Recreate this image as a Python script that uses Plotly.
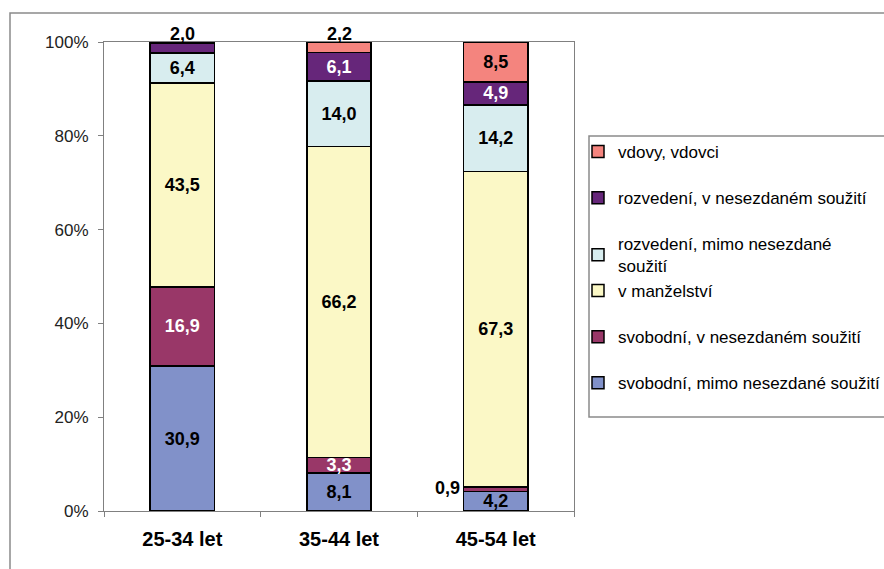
import plotly.graph_objects as go

# Age groups on the x axis
groups = ["25-34 let", "35-44 let", "45-54 let"]

# Shares (%) by marital status / cohabitation, stacked bottom to top
svobodni_mimo = [30.9, 8.1, 4.2]
svobodni_v = [16.9, 3.3, 0.9]
manzelstvi = [43.5, 66.2, 67.3]
rozvedeni_mimo = [6.4, 14.0, 14.2]
rozvedeni_v = [2.0, 6.1, 4.9]
vdovy = [0.3, 2.2, 8.5]

series_names = [
    "svobodní, mimo nesezdané soužití",
    "svobodní, v nesezdaném soužití",
    "v manželství",
    "rozvedení, mimo nesezdané<br>soužití",
    "rozvedení, v nesezdaném soužití",
    "vdovy, vdovci",
]
series_values = [svobodni_mimo, svobodni_v, manzelstvi, rozvedeni_mimo, rozvedeni_v, vdovy]
colors = ["#8191C9", "#993768", "#FBF8C6", "#D8EDEF", "#66267A", "#F4847E"]
text_colors = ["black", "white", "black", "black", "white", "black"]
# Lower three statuses go in the second legend block
legend_ids = ["legend2", "legend2", "legend2", "legend", "legend", "legend"]

y_ticks = [0, 20, 40, 60, 80, 100]
y_tick_text = [f"{t}%" for t in y_ticks]

# Values labelled outside their segment: (series index, group index)
outside_above = [(4, 0), (5, 1)]
outside_left = [(1, 2)]
hidden = [(5, 0)]

FONT = "Liberation Sans, Arial"
W, H = 884, 569
PL, PR, PT, PB = 104, 574, 42, 511  # plot area in pixels


def fmt(v):
    return f"{v:.1f}".replace(".", ",")


def px_x(x):
    return (x - PL) / (PR - PL)


def px_y(y):
    return (PB - y) / (PB - PT)


fig = go.Figure()
for i, (name, vals) in enumerate(zip(series_names, series_values)):
    texts = []
    for j, v in enumerate(vals):
        if (i, j) in outside_above or (i, j) in outside_left or (i, j) in hidden:
            texts.append("")
        else:
            texts.append(fmt(v))
    fig.add_trace(go.Bar(
        x=groups, y=vals, name=name,
        marker=dict(color=colors[i], line=dict(color="black", width=1.5)),
        text=texts, textposition="inside", insidetextanchor="middle",
        textangle=0, constraintext="none",
        textfont=dict(family=FONT, size=18, color=text_colors[i], weight="bold"),
        legend=legend_ids[i], legendgroup=f"g{i}", legendrank=100 - i,
        hoverinfo="skip",
    ))

annotations = []
for i, j in outside_above:
    annotations.append(dict(
        x=groups[j], y=100, xref="x", yref="y", yanchor="bottom",
        text=f"<b>{fmt(series_values[i][j])}</b>", showarrow=False,
        font=dict(family=FONT, size=18, color="black"),
        yshift=-4,
    ))
for i, j in outside_left:
    base = sum(series_values[k][j] for k in range(i))
    annotations.append(dict(
        x=groups[j], y=base + series_values[i][j] / 2, xref="x", yref="y",
        xanchor="right", yanchor="middle",
        text=f"<b>{fmt(series_values[i][j])}</b>", showarrow=False,
        font=dict(family=FONT, size=18, color="black"),
        xshift=-34, yshift=1,
    ))

legend_style = dict(
    xref="container", yref="container", xanchor="left", yanchor="top",
    traceorder="grouped", tracegroupgap=21,
    bgcolor="rgba(0,0,0,0)", borderwidth=0,
    font=dict(family=FONT, size=17, color="black"),
    itemclick=False, itemdoubleclick=False,
)

fig.update_layout(
    width=W, height=H,
    barmode="stack", barnorm="percent", bargap=0.59,
    plot_bgcolor="white", paper_bgcolor="white",
    margin=dict(l=PL, r=W - PR, t=PT, b=H - PB, autoexpand=False),
    font=dict(family=FONT, size=17, color="#222"),
    annotations=annotations,
    legend=dict(x=578 / W, y=1 - 134 / H, **legend_style),
    legend2=dict(x=578 / W, y=1 - 273 / H, **legend_style),
    shapes=[
        # outer chart frame
        dict(type="rect", xref="paper", yref="paper",
             x0=px_x(10), x1=2.0, y0=-1.0, y1=px_y(13),
             line=dict(color="#8a8a8a", width=1.5), fillcolor="rgba(0,0,0,0)",
             layer="below"),
        # legend frame
        dict(type="rect", xref="paper", yref="paper",
             x0=px_x(589), x1=px_x(900), y0=px_y(417), y1=px_y(136),
             line=dict(color="#8a8a8a", width=1.5), fillcolor="white",
             layer="below"),
    ],
)
fig.update_xaxes(
    showline=True, linecolor="#808080", linewidth=1, mirror=True,
    ticks="outside", tickson="boundaries", ticklen=5, tickcolor="#808080",
    tickfont=dict(family=FONT, size=20, color="black", weight="bold"),
    ticklabelstandoff=10, showgrid=False,
)
fig.update_yaxes(
    range=[0, 100], tickvals=y_ticks, ticktext=y_tick_text,
    showline=True, linecolor="#808080", linewidth=1, mirror=True,
    ticks="outside", ticklen=5, tickcolor="#808080",
    tickfont=dict(family=FONT, size=17, color="#222"),
    ticklabelstandoff=6, showgrid=False, zeroline=False,
)

fig.write_html("out.html")
